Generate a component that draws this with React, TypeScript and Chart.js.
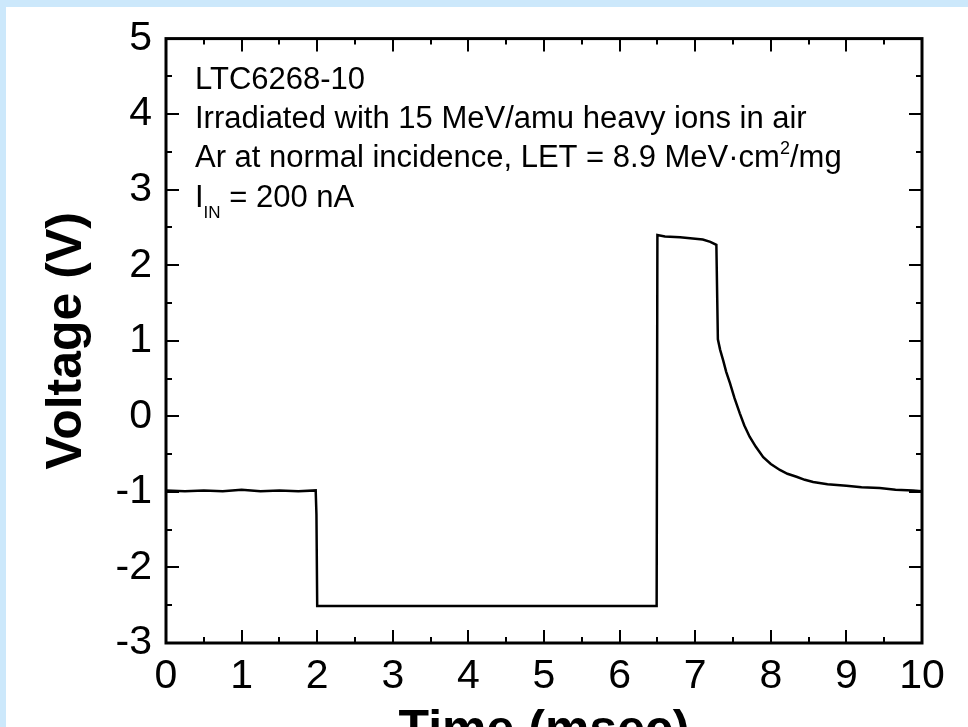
import { useEffect, useRef } from "react";
import { Chart, registerables } from "chart.js";

Chart.register(...registerables);

// ---- data ----
const timeMs = [
  0, 0.25, 0.5, 0.75, 1.0, 1.25, 1.5, 1.75, 1.98, 1.99, 2.0,
  2.5, 3.0, 3.5, 4.0, 4.5, 5.0, 5.5, 6.0, 6.49,
  6.5, 6.6, 6.8, 7.0, 7.1, 7.2, 7.28, 7.3,
  7.33, 7.37, 7.41, 7.46, 7.52, 7.59, 7.65, 7.72, 7.8, 7.9, 8.0, 8.12,
  8.22, 8.34, 8.45, 8.56, 8.75, 9.0, 9.2, 9.44, 9.65, 9.88, 10.0,
];
const voltageV = [
  -0.98, -0.99, -0.98, -0.99, -0.97, -0.99, -0.98, -0.99, -0.98, -1.3, -2.51,
  -2.51, -2.51, -2.51, -2.51, -2.51, -2.51, -2.51, -2.51, -2.51,
  2.4, 2.38, 2.37, 2.35, 2.34, 2.31, 2.27, 1.02,
  0.88, 0.74, 0.59, 0.44, 0.24, 0.04, -0.12, -0.27, -0.4, -0.54, -0.63, -0.71,
  -0.76, -0.8, -0.84, -0.87, -0.9, -0.92, -0.94, -0.95, -0.97, -0.98, -0.99,
];
const xRange = [0, 10];
const yRange = [-3, 5];
const xTitle = "Time (msec)";
const yTitle = "Voltage (V)";
type Seg = { t: string; k?: "sub" | "sup" };
const noteLines: Seg[][] = [
  [{ t: "LTC6268-10" }],
  [{ t: "Irradiated with 15 MeV/amu heavy ions in air" }],
  [{ t: "Ar at normal incidence, LET = 8.9 MeV·cm" }, { t: "2", k: "sup" }, { t: "/mg" }],
  [{ t: "I" }, { t: "IN", k: "sub" }, { t: " = 200 nA" }],
];

const FONT = '"Liberation Sans", Arial, sans-serif';

const frameTicks = {
  id: "frameTicks",
  afterDatasetsDraw(chart: any) {
    const { ctx, chartArea: a, scales } = chart;
    const xs = scales.x;
    const ys = scales.y;
    ctx.save();
    ctx.strokeStyle = "#000";
    ctx.lineWidth = 2;
    ctx.beginPath();
    for (let v = xRange[0]; v <= xRange[1] + 1e-9; v += 0.5) {
      const px = Math.round(xs.getPixelForValue(v));
      const len = Math.abs(v - Math.round(v)) < 1e-9 ? 13 : 6;
      ctx.moveTo(px, a.bottom);
      ctx.lineTo(px, a.bottom - len);
      ctx.moveTo(px, a.top);
      ctx.lineTo(px, a.top + len);
    }
    for (let v = yRange[0]; v <= yRange[1] + 1e-9; v += 0.5) {
      const py = Math.round(ys.getPixelForValue(v));
      const len = Math.abs(v - Math.round(v)) < 1e-9 ? 13 : 6;
      ctx.moveTo(a.left, py);
      ctx.lineTo(a.left + len, py);
      ctx.moveTo(a.right, py);
      ctx.lineTo(a.right - len, py);
    }
    ctx.stroke();
    ctx.lineWidth = 3;
    ctx.strokeRect(a.left, a.top, a.right - a.left, a.bottom - a.top);
    ctx.restore();
  },
};

const notes = {
  id: "notes",
  afterDraw(chart: any) {
    const { ctx, chartArea: a } = chart;
    ctx.save();
    ctx.fillStyle = "#000";
    ctx.textBaseline = "alphabetic";
    ctx.textAlign = "left";
    noteLines.forEach((line, i) => {
      let x = a.left + 29;
      const y = a.top + 50 + i * 39.3;
      line.forEach((s) => {
        let size = 31;
        let dy = 0;
        if (s.k === "sub") { size = 17; dy = 11; }
        if (s.k === "sup") { size = 18; dy = -13; }
        ctx.font = `${size}px ${FONT}`;
        ctx.fillText(s.t, x, y + dy);
        x += ctx.measureText(s.t).width;
      });
    });
    ctx.restore();
  },
};

export default function App() {
  const ref = useRef<HTMLCanvasElement | null>(null);
  useEffect(() => {
    if (!ref.current) return;
    const points = timeMs.map((t, i) => ({ x: t, y: voltageV[i] }));
    const chart = new Chart(ref.current, {
      type: "scatter",
      data: {
        datasets: [
          {
            data: points,
            showLine: true,
            borderColor: "#000",
            backgroundColor: "#000",
            borderWidth: 2.5,
            pointRadius: 0,
            tension: 0,
          },
        ],
      },
      options: {
        animation: false,
        responsive: false,
        devicePixelRatio: 1,
        layout: { padding: { left: 0, top: 38, right: 46, bottom: 0 } },
        plugins: { legend: { display: false }, tooltip: { enabled: false } },
        scales: {
          x: {
            type: "linear",
            position: "bottom",
            min: xRange[0],
            max: xRange[1],
            grid: { display: false, drawTicks: false },
            border: { display: false },
            ticks: {
              stepSize: 1,
              color: "#000",
              font: { family: FONT, size: 41 },
              padding: 9,
              maxRotation: 0,
              autoSkip: false,
            },
            title: {
              display: true,
              text: xTitle,
              color: "#000",
              font: { family: FONT, size: 50, weight: "bold" },
              padding: { top: 0, bottom: 9 },
            },
            afterFit(s: any) {
              s.height = 127;
            },
          },
          y: {
            type: "linear",
            position: "left",
            min: yRange[0],
            max: yRange[1],
            grid: { display: false, drawTicks: false },
            border: { display: false },
            ticks: {
              stepSize: 1,
              color: "#000",
              font: { family: FONT, size: 41 },
              padding: 14,
            },
            title: {
              display: true,
              text: yTitle,
              color: "#000",
              font: { family: FONT, size: 50, weight: "bold" },
              padding: { top: 37, bottom: 0 },
            },
            afterFit(s: any) {
              s.width = 166;
            },
          },
        },
      },
      plugins: [frameTicks, notes],
    });
    return () => chart.destroy();
  }, []);

  return (
    <div
      style={{
        position: "fixed",
        left: 0,
        top: 0,
        width: 968,
        height: 727,
        overflow: "hidden",
        background: "#fff",
      }}
    >
      <canvas
        ref={ref}
        width={968}
        height={770}
        style={{ position: "absolute", left: 0, top: 0, width: 968, height: 770, display: "block" }}
      />
      <div style={{ position: "absolute", left: 0, top: 0, width: 968, height: 7, background: "#cce8fb" }} />
      <div style={{ position: "absolute", left: 0, top: 0, width: 6, height: 727, background: "#cce8fb" }} />
    </div>
  );
}
